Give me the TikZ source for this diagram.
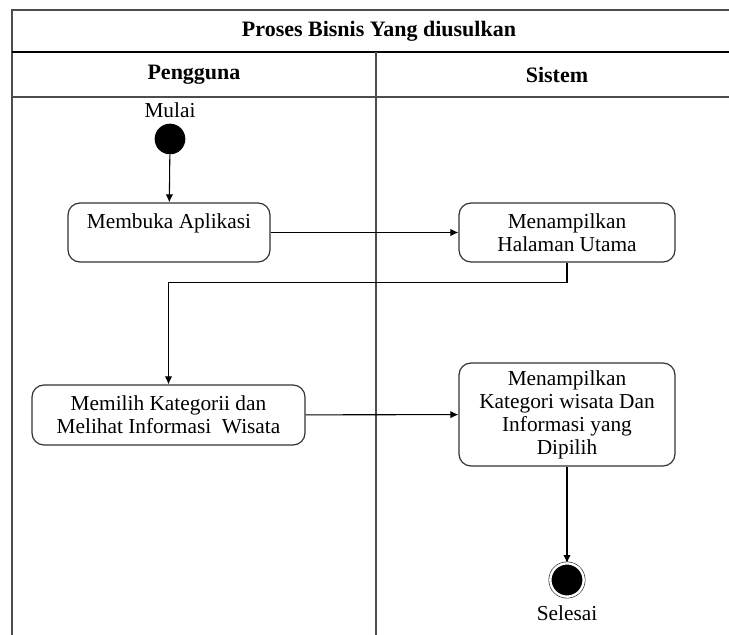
\documentclass[tikz,border=0pt]{standalone}
\usepackage{fontspec}
\setmainfont{Liberation Serif}
\usetikzlibrary{arrows.meta}

\begin{document}
\begin{tikzpicture}[x=0.75pt, y=-0.75pt,
	every node/.style={font=\fontsize{16}{17.25}\selectfont},
	lane/.style={draw=black!70, line width=1.1pt},
	judul/.style={font=\bfseries\fontsize{16.5}{18}\selectfont},
	act/.style={draw=black!80, line width=0.9pt, rounded corners=9pt, align=center, inner sep=0pt, minimum height=44.25pt},
	mulai/.style={circle, fill=black, inner sep=0pt, minimum size=23pt},
	selesai/.style={circle, fill=black, draw, double=white, double distance=1.8pt, inner sep=0pt, minimum size=25pt},
	flow/.style={-{Latex[length=6pt,width=5.5pt]}, line width=0.8pt}]
	\useasboundingbox (0,0) rectangle (729,635);
	% swimlane frame
	\draw[lane] (12,635) -- (12,10) -- (729,10);
	\draw[lane, draw=black] (12,52) -- (729,52);
	\draw[lane] (12,97) -- (729,97);
	\draw[lane] (376,52) -- (376,635);
	\node[judul] (title) at (379,31) {Proses Bisnis Yang diusulkan};
	\node[judul] (pengguna) at (194,75) {Pengguna};
	\node[judul] (sistem) at (557,75) {Sistem};

	% activities
	\node[mulai, label={[inner sep=0pt, yshift=4pt]above:Mulai}] (start) at (170,139) {};
	\node[act, minimum width=151.5pt] (buka) at (169,232.5) {Membuka Aplikasi\\ \mbox{}};
	\node[act, minimum width=162pt] (utama) at (567,232.5) {Menampilkan\\Halaman Utama};
	\node[act, minimum width=204.75pt, minimum height=45pt] (pilih) at (168.5,415) {Memilih Kategorii dan\\Melihat Informasi\ \ Wisata};
	\node[act, minimum width=162pt, minimum height=77.25pt] (info) at (567,414.5) {Menampilkan\\Kategori wisata Dan\\Informasi yang\\Dipilih};
	\node[selesai, label={[inner sep=6pt]below:Selesai}] (end) at (567,580) {};

	% transitions
	\draw[flow] (start) -- (buka);
	\draw[flow] (buka) -- (utama);
	\draw[flow] (utama.south) -- ++(0,20) -| (pilih.north);
	\draw[flow] (pilih) -- (info);
	\draw[flow] (info) -- (end);
\end{tikzpicture}
\end{document}
